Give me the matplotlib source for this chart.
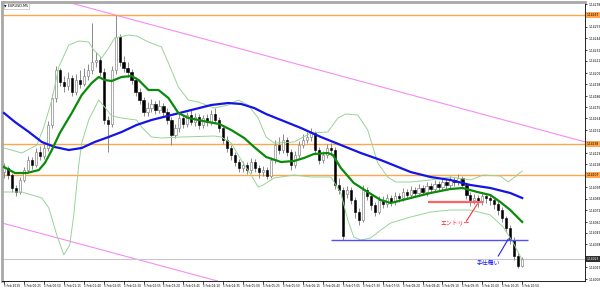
import numpy as np
import matplotlib
matplotlib.use('Agg')
import matplotlib.pyplot as plt
from matplotlib.transforms import blended_transform_factory

# EURUSD M5, prices given in points (0.00001) above BASE
BASE = 1.14

open_pts = [110, 114, 107, 94, 90, 102, 112, 122, 117, 130,
            126, 134, 157, 184, 212, 200, 196, 204, 190, 202,
            198, 206, 212, 220, 222, 210, 162, 158, 212, 245,
            220, 214, 210, 202, 190, 182, 170, 174, 178, 172,
            176, 170, 162, 147, 154, 164, 158, 167, 160, 165,
            157, 164, 160, 168, 162, 154, 142, 134, 127, 120,
            114, 117, 112, 120, 114, 110, 112, 106, 122, 137,
            132, 142, 130, 117, 127, 137, 142, 145, 149, 132,
            122, 127, 134, 132, 97, 92, 88, 92, 82, 70,
            62, 92, 86, 77, 70, 82, 78, 84, 80, 86,
            84, 90, 87, 92, 89, 94, 90, 96, 93, 98,
            95, 100, 97, 102, 100, 104, 97, 87, 82, 84,
            80, 86, 84, 82, 78, 72, 64, 54, 42, 26,
            16]
close_pts = [114, 107, 94, 90, 102, 112, 122, 117, 130, 126,
             134, 157, 184, 212, 200, 196, 204, 190, 202, 198,
             206, 212, 220, 222, 210, 162, 158, 212, 245, 220,
             214, 210, 202, 190, 182, 170, 174, 178, 172, 176,
             170, 162, 147, 154, 164, 158, 167, 160, 165, 157,
             164, 160, 168, 162, 154, 142, 134, 127, 120, 114,
             117, 112, 120, 114, 110, 112, 106, 122, 137, 132,
             142, 130, 117, 127, 137, 142, 145, 149, 132, 122,
             127, 134, 132, 97, 92, 46, 92, 82, 70, 62,
             92, 86, 77, 70, 82, 78, 84, 80, 86, 84,
             90, 87, 92, 89, 94, 90, 96, 93, 98, 95,
             100, 97, 102, 100, 104, 97, 87, 82, 84, 80,
             86, 84, 82, 78, 72, 64, 54, 42, 26, 16,
             23]
high_pts = [119, 116, 109, 97, 105, 115, 126, 125, 134, 136,
            140, 161, 188, 216, 214, 206, 210, 207, 208, 212,
            214, 218, 259, 230, 225, 214, 166, 216, 267, 248,
            226, 220, 213, 205, 194, 185, 180, 183, 181, 182,
            179, 174, 165, 158, 168, 167, 170, 172, 169, 168,
            167, 168, 172, 174, 165, 156, 146, 137, 130, 123,
            121, 120, 124, 123, 117, 116, 115, 125, 142, 145,
            148, 145, 133, 131, 141, 148, 150, 154, 151, 135,
            131, 138, 139, 135, 104, 95, 96, 95, 85, 74,
            97, 95, 89, 80, 86, 86, 88, 87, 90, 89,
            94, 93, 96, 95, 98, 97, 100, 99, 102, 101,
            104, 103, 106, 105, 108, 106, 99, 90, 88, 87,
            90, 89, 88, 85, 81, 75, 66, 57, 45, 29,
            25]
low_pts = [104, 103, 90, 86, 88, 100, 110, 113, 115, 122,
           123, 131, 154, 180, 196, 190, 192, 186, 187, 194,
           196, 202, 208, 215, 206, 158, 130, 155, 208, 216,
           210, 205, 198, 186, 178, 166, 166, 170, 168, 169,
           166, 158, 137, 144, 150, 154, 155, 157, 156, 153,
           154, 156, 157, 159, 150, 138, 130, 122, 116, 110,
           110, 108, 109, 110, 104, 106, 103, 104, 119, 128,
           129, 126, 112, 114, 124, 134, 139, 141, 128, 118,
           119, 124, 127, 93, 88, 42, 84, 78, 64, 57,
           60, 82, 72, 66, 68, 74, 75, 76, 77, 80,
           81, 83, 84, 85, 86, 87, 86, 89, 90, 91,
           92, 93, 94, 96, 97, 93, 83, 76, 78, 75,
           77, 79, 77, 73, 67, 60, 50, 38, 22, 14,
           15]

time_labels = ["5 Feb 2019", "5 Feb 00:25", "5 Feb 00:50", "5 Feb 01:15", "5 Feb 01:40",
               "5 Feb 02:05", "5 Feb 02:30", "5 Feb 02:55", "5 Feb 03:20", "5 Feb 03:45",
               "5 Feb 04:10", "5 Feb 04:35", "5 Feb 05:00", "5 Feb 05:25", "5 Feb 05:50",
               "5 Feb 06:15", "5 Feb 06:40", "5 Feb 07:05", "5 Feb 07:30", "5 Feb 07:55",
               "5 Feb 08:20", "5 Feb 08:45", "5 Feb 09:10", "5 Feb 09:35", "5 Feb 10:00",
               "5 Feb 10:25", "5 Feb 10:50"]

price_tick_pts = [278, 267, 255, 244, 232, 221, 209, 198, 186, 175, 164, 152, 141,
                  129, 118, 106, 95, 83, 72, 60, 49, 38, 26, 15, 3]

# moving averages (bar position, points)
ma21_bar = [0, 2.75, 5.75, 8.75, 10.25, 12, 14, 17, 19.5, 22, 23.75, 25.25, 27, 29.5, 32,
            33.75, 36.25, 38.75, 41.25, 43.75, 46.25, 48.75, 51.25, 54, 57, 60.25, 62.75,
            65.75, 69.5, 72.75, 75.25, 77.75, 81.25, 82.5, 84.5, 87.75, 91.25, 94.5, 97,
            102, 107, 112, 115, 118.75, 122, 124.5, 127, 130]
ma21_pts = [115, 109, 109, 112, 119, 132, 149, 169, 187, 199, 205, 202, 201, 205, 206,
            202, 192, 192, 184, 169, 164, 162, 160, 158, 152, 144, 135,
            125, 120, 121, 124, 128, 129, 127, 114, 99, 90, 82, 79,
            84, 89, 93, 94, 90, 87, 80, 72, 60]
ma75_bar = [0, 2.75, 6.25, 9.5, 12.75, 16.25, 19.5, 22.75, 26.25, 29.5, 33.25, 37, 42, 47,
            52, 56.25, 59.5, 62.75, 65.75, 69.5, 74.5, 79.5, 84.5, 89.5, 94.5, 98.25, 102,
            107, 112, 117, 122, 127, 130]
ma75_pts = [169, 160, 150, 140, 135, 132, 134, 140, 145, 150, 157, 162, 167, 172,
            177, 179, 178, 174, 168, 162, 154, 145, 137, 129, 122, 116, 110,
            105, 102, 97, 94, 89, 84]

# bollinger bands (bar position, points)
bb_up_bar = [0, 4.5, 8.25, 10, 12, 13.75, 16.25, 18.75, 21.25, 22.5, 24.5, 26.25, 27.75,
             31.25, 33.25, 36.25, 39.5, 41.25, 43.75, 46.25, 48.75, 52.75, 56.25, 58.75,
             61.25, 63.75, 65.75, 67.75, 72.75, 77, 81.25, 83.75, 85.75, 88.75, 91.25,
             93.75, 96.25, 98.25, 102, 107, 112, 117, 120.25, 124.5, 126.5, 130]
bb_up_pts = [134, 129, 137, 155, 182, 215, 237, 241, 240, 232, 224, 234, 244,
             247, 246, 240, 235, 219, 195, 182, 180, 174, 177, 182,
             177, 164, 145, 139, 140, 149, 150, 164, 168, 167, 152,
             119, 105, 100, 100, 102, 105, 102, 107, 106, 100, 111]
bb_lo_bar = [0, 4.5, 9.5, 11.25, 13.25, 15, 16.5, 17.5, 18.75, 19.5, 21.25, 23.75, 25.25,
             27, 29.5, 33.25, 34.5, 37, 39.5, 44.5, 52.75, 54.5, 57, 59.5, 62, 63.75, 65,
             67.75, 72.75, 77, 82, 84.5, 86.25, 87.75, 89.5, 92, 94.5, 97, 102, 107, 112,
             117, 122, 125.25, 127.75, 130]
bb_lo_pts = [90, 90, 84, 74, 47, 27, 37, 67, 117, 139, 162, 182, 175,
             166, 164, 162, 155, 145, 144, 145, 146, 145, 139, 122, 107, 95, 97,
             104, 107, 105, 105, 89, 62, 45, 42, 44, 52, 59, 65, 70, 72,
             72, 67, 55, 39, 22]

# drawn objects on the chart (points)
orange_levels = [267, 138, 107]
current_price = 23
upper_channel = [(14, 282), (144, 142)]
lower_channel = [(-0.5, 59), (54.5, 0)]
entry_level = (80, 106.25, 120.25)
exit_level = (42, 82, 131.5)


def p(v):
    return BASE + np.asarray(v, dtype=float) / 1e5


fig = plt.figure(figsize=(6, 2.89), dpi=100)
fig.patch.set_facecolor('white')
ax = fig.add_axes([2 / 600, 8 / 289, 583 / 600, 279 / 289])
ax.set_facecolor('white')

n = len(close_pts)
bars = np.arange(n)
o, h, l, c = p(open_pts), p(high_pts), p(low_pts), p(close_pts)
up = c >= o

# channels / levels
for (x1, y1), (x2, y2) in [upper_channel, lower_channel]:
    ax.axline((x1, p(y1)), (x2, p(y2)), color='#f58cf5', lw=0.8, zorder=1)
for lv in orange_levels:
    ax.axhline(p(lv), color='#ffa54a', lw=1.0, zorder=1)
ax.axhline(p(current_price), color='#c8c8c8', lw=0.8, zorder=1)

# candles
ax.vlines(bars, l, h, color='#8a8a8a', lw=0.7, zorder=2)
ax.bar(bars[up], (c - o)[up], bottom=o[up], width=0.55, color='white',
       edgecolor='#8a8a8a', linewidth=0.5, zorder=3)
ax.bar(bars[~up], (o - c)[~up], bottom=c[~up], width=0.55, color='black',
       edgecolor='black', linewidth=0.4, zorder=3)

# indicators
ax.plot(bb_up_bar, p(bb_up_pts), color='#98d498', lw=0.7, zorder=4)
ax.plot(bb_lo_bar, p(bb_lo_pts), color='#98d498', lw=0.7, zorder=4)
ax.plot(ma75_bar, p(ma75_pts), color='#1414e6', lw=1.6, zorder=5)
ax.plot(ma21_bar, p(ma21_pts), color='#0a8a0a', lw=1.6, zorder=5)

# annotations
jp = ['Noto Sans CJK JP', 'DejaVu Sans']
ax.hlines(p(entry_level[0]), entry_level[1], entry_level[2], color='#ff6464', lw=1.6, zorder=6)
ax.plot([118.75, 116], p([78, 61]), color='#ff3030', lw=0.8, zorder=6)
ax.text(113.3, p(58), 'エントリー', color='#ff2020', fontsize=4.2, family=jp,
        ha='center', va='center', zorder=7)
ax.hlines(p(exit_level[0]), exit_level[1], exit_level[2], color='#5050ff', lw=1.0, zorder=6)
ax.plot([126.5, 124], p([43, 26]), color='#2020ff', lw=0.8, zorder=6)
ax.text(121.6, p(19), '手仕舞い', color='#2020ff', fontsize=4.2, family=jp,
        ha='center', va='center', zorder=7)

ax.text(0.004, 0.993, '▼ EURUSD,M5', transform=ax.transAxes, fontsize=2.4, va='top', ha='left',
        bbox=dict(boxstyle='square,pad=0.2', fc='white', ec='#b0b0b0', lw=0.4))

ax.set_xlim(-0.5, 145.75)
ax.set_ylim(p(1), p(280))

# axes look: the boxed levels cover the scale labels next to them
boxed = orange_levels + [current_price]
shown_ticks = [t for t in price_tick_pts if min(abs(t - b) for b in boxed) > 6]
ax.yaxis.tick_right()
ax.set_yticks(p(price_tick_pts))
ax.set_yticklabels(['%.5f' % p(t) if t in shown_ticks else '' for t in price_tick_pts])
ax.tick_params(axis='y', labelsize=2.2, length=1.5, width=0.5, pad=0.8)
ax.set_xticks(bars[::5])
ax.set_xticklabels(time_labels, ha='left')
ax.tick_params(axis='x', labelsize=2.1, length=2, width=0.5, pad=0.5)
for s in ['right', 'bottom']:
    ax.spines[s].set_color('black')
    ax.spines[s].set_linewidth(0.6)
for s in ['left', 'top']:
    ax.spines[s].set_color('#a8a8a8')
    ax.spines[s].set_linewidth(2.0)

# price boxes on the scale
tr = blended_transform_factory(ax.transAxes, ax.transData)
for lv in orange_levels:
    ax.text(1.003, p(lv), '%.5f' % p(lv), transform=tr, fontsize=2.2, va='center', ha='left',
            bbox=dict(boxstyle='square,pad=0.2', fc='#ffa54a', ec='none'), clip_on=False,
            zorder=10)
ax.text(1.003, p(current_price), '%.5f' % p(current_price), transform=tr, fontsize=2.2,
        color='white', va='center', ha='left',
        bbox=dict(boxstyle='square,pad=0.2', fc='#303030', ec='none'), clip_on=False,
        zorder=10)

fig.savefig('out.png', dpi=100, facecolor='white')
